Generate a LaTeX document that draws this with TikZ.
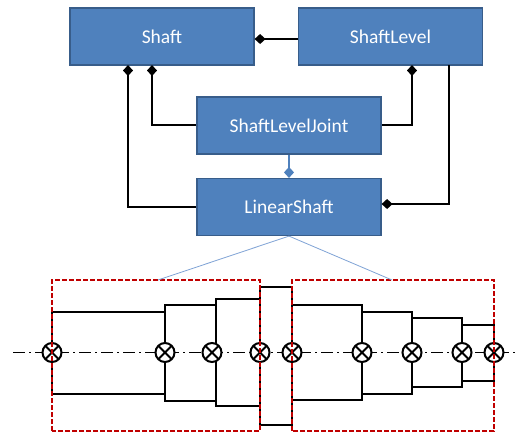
\documentclass[tikz,border=0pt]{standalone}
\usepackage{fontspec}
\setmainfont{Carlito}
\usetikzlibrary{arrows.meta,calc}
\definecolor{boxfill}{HTML}{4F81BD}
\definecolor{boxline}{HTML}{385D8A}
\definecolor{lightlink}{HTML}{7FA3D6}
\definecolor{redline}{HTML}{C00000}
\tikzset{
  classbox/.style={draw=boxline,line width=1.2pt,fill=boxfill,text=white,font=\fontsize{19.5}{22}\selectfont,
    minimum width=184pt,minimum height=57pt,inner sep=0pt,anchor=center},
  link/.style={draw=black,line width=2.2pt},
  comp/.style={link,{Diamond[length=11pt,width=10pt,fill=black]}-},
  bluecomp/.style={draw=boxfill,line width=2pt,{Diamond[length=11pt,width=10pt,fill=boxfill]}-},
  thin link/.style={draw=lightlink,line width=0.8pt},
  outline/.style={draw=black,line width=2.1pt,line join=miter},
  redbox/.style={draw=redline,line width=2pt,dash pattern=on 5pt off 2pt},
  axisline/.style={draw=black,line width=1.2pt,dash pattern=on 12pt off 4pt on 2pt off 4pt},
  joint/.style={circle,draw=black,line width=2pt,fill=white,minimum size=19pt,inner sep=0pt,
    path picture={\draw[black,line width=2pt]
      (path picture bounding box.south west)--(path picture bounding box.north east)
      (path picture bounding box.north west)--(path picture bounding box.south east);}},
}
\begin{document}
\begin{tikzpicture}[x=1pt,y=-1pt]
\useasboundingbox[fill=white] (0,0) rectangle (515,432);
% axis
\coordinate (axisL) at (13,352.5);
\coordinate (axisR) at (515,352.5);
\draw[axisline] (axisL) -- (axisR);
% shaft outline
\draw[outline] (52,394) -- (52,312) -- (165,312) -- (165,394) -- cycle;
\draw[outline] (165,305) -- (216,305) -- (216,401) -- (165,401) -- cycle;
\draw[outline] (216,299) -- (260,299) -- (260,406) -- (216,406) -- cycle;
\draw[outline] (260,287) -- (292,287) -- (292,425) -- (260,425) -- cycle;
\draw[outline] (292,305) -- (362,305) -- (362,400) -- (292,400) -- cycle;
\draw[outline] (362,312) -- (412,312) -- (412,394) -- (362,394) -- cycle;
\draw[outline] (412,318) -- (462,318) -- (462,387) -- (412,387) -- cycle;
\draw[outline] (462,325) -- (494,325) -- (494,381) -- (462,381) -- cycle;
% joints
\node[joint] (j1) at (52,352.5) {};
\node[joint] (j2) at (165,352.5) {};
\node[joint] (j3) at (212,352.5) {};
\node[joint] (j4) at (260,352.5) {};
\node[joint] (j5) at (292,352.5) {};
\node[joint] (j6) at (362,352.5) {};
\node[joint] (j7) at (412,352.5) {};
\node[joint] (j8) at (462,352.5) {};
\node[joint] (j9) at (494,352.5) {};
% dashed regions
\draw[redbox] (52,431) -- (52,280) -- (260,280) -- (260,431) -- cycle;
\draw[redbox] (292,431) -- (292,280) -- (494,280) -- (494,431) -- cycle;
\coordinate (regionA) at (158,280);
\coordinate (regionB) at (392,280);
% class boxes
\node[classbox] (shaft) at (162,36.5) {Shaft};
\node[classbox] (level) at (390.5,36.5) {ShaftLevel};
\node[classbox] (joint) at (289,125.5) {ShaftLevelJoint};
\node[classbox] (linear) at (289,207) {LinearShaft};
% connectors
\draw[comp] (shaft.east |- 0,39) -- (level.west |- 0,39);
\draw[comp] (128,65) -- (128,207) -- (linear.west);
\draw[comp] (152,65) -- (152,125) -- (joint.west |- 0,125);
\draw[comp] (412,65) -- (412,125) -- (joint.east |- 0,125);
\draw[comp] (linear.east |- 0,204) -- (449,204) -- (449,65);
\draw[bluecomp] (linear.north) -- (joint.south);
\draw[thin link] (linear.south) -- (regionA);
\draw[thin link] (linear.south) -- (regionB);
\end{tikzpicture}
\end{document}
